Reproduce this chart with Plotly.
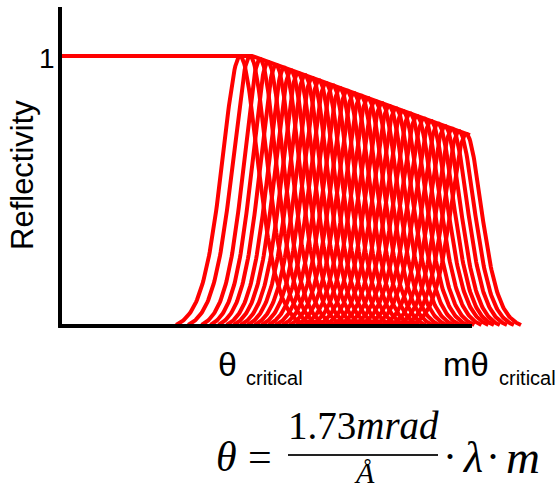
import numpy as np
import plotly.graph_objects as go

# ---- data (x in units of theta/theta_critical) ----
env_x = [-0.01, 1.0, 2.135]
env_y = [1.0, 1.0, 0.706]

peak_centers = [0.938, 0.990, 1.042, 1.083, 1.125, 1.167, 1.203, 1.240, 1.276, 1.313,
                1.349, 1.385, 1.422, 1.458, 1.495, 1.531, 1.568, 1.604, 1.641, 1.677,
                1.714, 1.750, 1.786, 1.823, 1.859, 1.896, 1.932, 1.969, 2.005, 2.042,
                2.078, 2.115]
peak_heights = [1.000, 1.000, 0.989, 0.978, 0.968, 0.957, 0.947, 0.938, 0.929, 0.919,
                0.910, 0.900, 0.891, 0.881, 0.872, 0.862, 0.853, 0.844, 0.834, 0.825,
                0.815, 0.806, 0.796, 0.787, 0.777, 0.768, 0.759, 0.749, 0.740, 0.730,
                0.721, 0.711]
peak_widths = [0.128, 0.124, 0.117, 0.115, 0.115, 0.115, 0.115, 0.115, 0.115, 0.115,
               0.115, 0.115, 0.115, 0.115, 0.115, 0.115, 0.115, 0.115, 0.115, 0.115,
               0.115, 0.115, 0.115, 0.115, 0.115, 0.115, 0.115, 0.112, 0.110, 0.110,
               0.110, 0.110]

y_tick_label = "1"
y_title = "Reflectivity"
x_label_1 = ("θ", "critical")
x_label_2 = ("mθ", "critical")

RED = "#ff0000"

# ---- build peak curves (sech^2 line shape, truncated to the baseline) ----
UMAX = 2.6
E0 = 1.0 / np.cosh(UMAX) ** 2
px_all, py_all = [], []
for c, h, s in zip(peak_centers, peak_heights, peak_widths):
    u = np.linspace(-UMAX, UMAX, 161)
    xs = c + u * s
    ys = h * (1.0 / np.cosh(u) ** 2 - E0) / (1.0 - E0)
    px_all += list(xs) + [None]
    py_all += list(ys) + [None]

fig = go.Figure()
fig.add_trace(go.Scatter(x=px_all, y=py_all, mode="lines",
                         line=dict(color=RED, width=4), hoverinfo="skip",
                         showlegend=False))
fig.add_trace(go.Scatter(x=env_x, y=env_y, mode="lines",
                         line=dict(color=RED, width=4), hoverinfo="skip",
                         showlegend=False))

# plot area in pixels: x 50..525, y 2..330
L, R, T, B = 50, 525, 2, 330
W, H = 559, 490


def ppx(px):
    return (px - L) / (R - L)


def ppy(py):
    return (B - py) / (B - T)


# axes drawn as lines
fig.add_shape(type="line", xref="x", yref="y", x0=0, x1=0, y0=-0.008, y1=1.182,
              line=dict(color="black", width=4), layer="above")
fig.add_shape(type="line", xref="x", yref="y", x0=-0.01, x1=2.146, y0=-0.004, y1=-0.004,
              line=dict(color="black", width=4), layer="above")

ann = []
SANS = "Liberation Sans, Arial, sans-serif"
SERIF = "Liberation Serif, Times New Roman, serif"


def A(text, px, py, size, family, xanchor="center", angle=0, color="black"):
    ann.append(dict(text=text, x=ppx(px), y=ppy(py), xref="paper", yref="paper",
                    xanchor=xanchor, yanchor="middle", showarrow=False,
                    textangle=angle, font=dict(size=size, family=family, color=color)))


A(y_tick_label, 57, 58, 28, SANS, xanchor="right")
A(y_title, 22, 175, 31, SANS, angle=-90)
A(x_label_1[0], 216, 364, 34, SANS, xanchor="left")
A(x_label_1[1], 244, 378, 20, SANS, xanchor="left")
A(x_label_2[0], 441, 364, 33, SANS, xanchor="left")
A(x_label_2[1], 497, 378, 20, SANS, xanchor="left")

# formula
A("<i>θ</i>", 226, 457, 42, SERIF)
A("=", 260, 457, 42, SERIF)
A("1.73<i>mrad</i>", 363, 425, 39, SERIF)
A("<i>Å</i>", 364, 472, 30, SERIF)
A("·", 450, 457, 42, SERIF)
A("<i>λ</i>", 472, 457, 44, SERIF)
A("·", 493, 457, 42, SERIF)
A("<i>m</i>", 523, 457, 47, SERIF)

fig.add_shape(type="line", xref="paper", yref="paper", x0=ppx(288), x1=ppx(438),
              y0=ppy(455), y1=ppy(455), line=dict(color="#222222", width=2))

fig.update_layout(
    width=W, height=H,
    margin=dict(l=L, r=W - R, t=T, b=H - B, pad=0),
    paper_bgcolor="white", plot_bgcolor="white",
    xaxis=dict(range=[(L - 60) / 192, (R - 60) / 192], visible=False, fixedrange=True),
    yaxis=dict(range=[(325 - B) / 269, (325 - T) / 269], visible=False, fixedrange=True),
    annotations=ann,
    showlegend=False,
)

fig.write_html("out.html")
